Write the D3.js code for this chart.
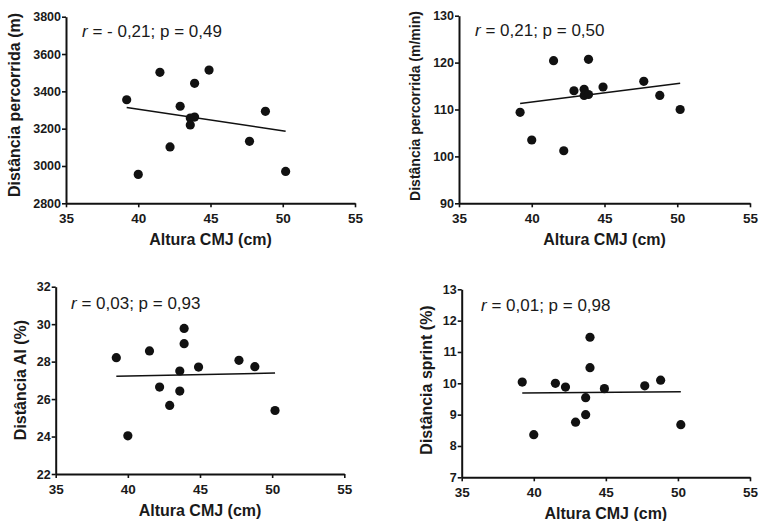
<!DOCTYPE html>
<html><head><meta charset="utf-8">
<script src="https://cdn.jsdelivr.net/npm/d3@7"></script>
<style>body{margin:0;background:#fff}svg{display:block}</style>
</head><body>
<svg id="c" width="759" height="521"></svg>
<script>
// Shared x values (Altura CMJ, cm)
const alturaCMJ = [39.2, 40.0, 41.5, 42.2, 42.9, 43.6, 43.6, 43.9, 43.9, 44.9, 47.7, 48.8, 50.2];
// Series values (same order as alturaCMJ)
const distPercorrida = [3355, 2955, 3502, 3102, 3320, 3257, 3220, 3262, 3443, 3514, 3132, 3293, 2971];
const distPorMin     = [109.4, 103.5, 120.4, 101.2, 114.0, 114.3, 113.0, 113.2, 120.7, 114.8, 116.0, 113.0, 110.0];
const distAI         = [28.21, 24.04, 28.57, 26.64, 25.66, 27.5, 26.43, 29.77, 28.96, 27.71, 28.07, 27.73, 25.39];
const distSprint     = [10.04, 8.36, 10.0, 9.88, 8.76, 9.54, 9.0, 11.47, 10.5, 9.83, 9.92, 10.1, 8.68];
// Fitted regression line values at x = 39.2 and x = 50.2
const fitX = [39.2, 50.2];
const fit1 = [3314, 3186];
const fit2 = [111.3, 115.6];
const fit3 = [27.22, 27.39];
const fit4 = [9.69, 9.73];
// Tick labels
const xTicks = [35, 40, 45, 50, 55];
const yTicks1 = [2800, 3000, 3200, 3400, 3600, 3800];
const yTicks2 = [90, 100, 110, 120, 130];
const yTicks3 = [22, 24, 26, 28, 30, 32];
const yTicks4 = [7, 8, 9, 10, 11, 12, 13];
// Texts
const xTitle = "Altura CMJ (cm)";
const yTitles = ["Distância percorrida (m)", "Distância percorrida (m/min)", "Distância AI (%)", "Distância sprint (%)"];
const stats = [["r", " = - 0,21; p = 0,49"], ["r", " = 0,21; p = 0,50"], ["r", " = 0,03; p = 0,93"], ["r", " = 0,01; p = 0,98"]];

const panels = [
  {x0: 66, x1: 355, yTop: 16.7, yBot: 203.3, yDom: [2800, 3800], yTicks: yTicks1, ys: distPercorrida, fit: fit1, title: yTitles[0], stat: stats[0], titleX: 14, titleY: 105, titleSize: 16, tx: 82, ty: 37},
  {x0: 459, x1: 750, yTop: 15.7, yBot: 203.3, yDom: [90, 130], yTicks: yTicks2, ys: distPorMin, fit: fit2, title: yTitles[1], stat: stats[1], titleX: 415, titleY: 106, titleSize: 14, tx: 475, ty: 36},
  {x0: 55.7, x1: 344.3, yTop: 286.7, yBot: 474, yDom: [22, 32], yTicks: yTicks3, ys: distAI, fit: fit3, title: yTitles[2], stat: stats[2], titleX: 20, titleY: 380, titleSize: 16, tx: 71, ty: 309},
  {x0: 461.7, x1: 750, yTop: 289.3, yBot: 477.3, yDom: [7, 13], yTicks: yTicks4, ys: distSprint, fit: fit4, title: yTitles[3], stat: stats[3], titleX: 426, titleY: 380, titleSize: 16, tx: 481, ty: 311}
];

const svg = d3.select("#c");
const font = "'Liberation Sans', Arial, sans-serif";
const fmt = d3.format("d");

panels.forEach(p => {
  const x = d3.scaleLinear().domain([35, 55]).range([p.x0, p.x1]);
  const y = d3.scaleLinear().domain(p.yDom).range([p.yBot, p.yTop]);
  const g = svg.append("g");

  const xa = g.append("g").attr("transform", `translate(0,${p.yBot})`)
    .call(d3.axisBottom(x).tickValues(xTicks).tickFormat(fmt).tickSize(4).tickSizeOuter(0).tickPadding(6));
  const ya = g.append("g").attr("transform", `translate(${p.x0},0)`)
    .call(d3.axisLeft(y).tickValues(p.yTicks).tickFormat(fmt).tickSize(4).tickSizeOuter(0).tickPadding(1));
  [xa, ya].forEach(a => {
    a.selectAll("path").attr("stroke", "#111").attr("stroke-width", 2);
    a.selectAll("line").attr("stroke", "#111").attr("stroke-width", 1.6);
    a.selectAll("text").attr("fill", "#1a1a1a").style("font-family", font).style("font-weight", "bold");
  });
  xa.selectAll("text").style("font-size", "13.5px");
  ya.selectAll("text").style("font-size", "12.5px");

  // regression line
  g.append("line")
    .attr("x1", x(fitX[0])).attr("y1", y(p.fit[0]))
    .attr("x2", x(fitX[1])).attr("y2", y(p.fit[1]))
    .attr("stroke", "#111").attr("stroke-width", 1.5);

  // points
  g.selectAll("circle.pt").data(alturaCMJ.map((v, i) => [v, p.ys[i]])).enter()
    .append("circle").attr("class", "pt")
    .attr("cx", d => x(d[0])).attr("cy", d => y(d[1])).attr("r", 4.6).attr("fill", "#111");

  // titles
  g.append("text").attr("x", (p.x0 + p.x1) / 2).attr("y", p.yBot + 42)
    .attr("text-anchor", "middle").style("font-family", font).style("font-weight", "bold")
    .style("font-size", "16px").attr("fill", "#1a1a1a").text(xTitle);
  g.append("text").attr("transform", `translate(${p.titleX},${p.titleY}) rotate(-90)`)
    .attr("text-anchor", "middle").attr("dy", "0.35em").style("font-family", font).style("font-weight", "bold")
    .style("font-size", p.titleSize + "px").attr("fill", "#1a1a1a").text(p.title);

  const t = g.append("text").attr("x", p.tx).attr("y", p.ty)
    .style("font-family", font).style("font-size", "17px").attr("fill", "#1a1a1a");
  t.append("tspan").style("font-style", "italic").text(p.stat[0]);
  t.append("tspan").text(p.stat[1]);
});
</script>
</body></html>
